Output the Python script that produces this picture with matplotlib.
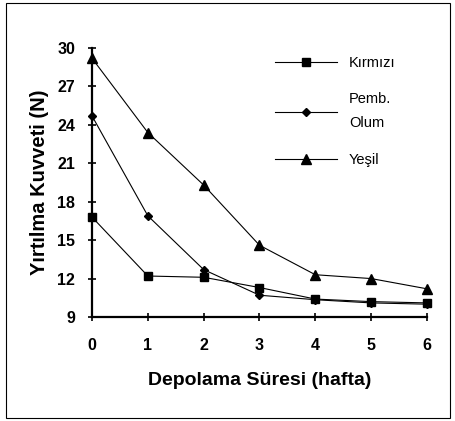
import matplotlib
matplotlib.use("Agg")
import matplotlib.pyplot as plt
from matplotlib.patches import Rectangle

plt.rcParams['font.family'] = ['Liberation Sans', 'DejaVu Sans']

weeks = [0, 1, 2, 3, 4, 5, 6]
kirmizi = [16.8, 12.2, 12.1, 11.3, 10.4, 10.2, 10.1]
pembe = [24.7, 16.9, 12.7, 10.7, 10.35, 10.1, 10.0]
yesil = [29.2, 23.4, 19.3, 14.6, 12.3, 12.0, 11.2]
yticks = [9, 12, 15, 18, 21, 24, 27, 30]
xticks = weeks

fig = plt.figure(figsize=(4.56, 4.21), dpi=100)
fig.patches.append(Rectangle((6/456, 3/421), 444/456, 415/421, transform=fig.transFigure,
                             fill=False, edgecolor='black', linewidth=0.8))
ax = fig.add_axes([92/456, 1-317/421, 335/456, 269/421])

ax.plot(weeks, kirmizi, color='black', lw=0.8, marker='s', ms=6, label='Kırmızı')
ax.plot(weeks, pembe, color='black', lw=0.8, marker='D', ms=4.5, label='Pemb.\nOlum')
ax.plot(weeks, yesil, color='black', lw=0.8, marker='^', ms=7, label='Yeşil')

ax.set_xlim(0, 6)
ax.set_ylim(9, 30)
ax.set_xticks(xticks)
ax.set_yticks(yticks)
for s in ['top', 'right']:
    ax.spines[s].set_visible(False)
for s in ['left', 'bottom']:
    ax.spines[s].set_linewidth(1.6)
    ax.spines[s].set_clip_on(False)
ax.tick_params(direction='inout', length=6, width=1.2, labelsize=11.5)
ax.tick_params(axis='x', pad=12)
ax.tick_params(axis='y', pad=9)
for lab in ax.get_xticklabels() + ax.get_yticklabels():
    lab.set_fontweight('bold')
ax.set_xlabel('Depolama Süresi (hafta)', fontsize=14, fontweight='bold', labelpad=14)
ax.set_ylabel('Yırtılma Kuvveti (N)', fontsize=14.5, fontweight='bold', labelpad=6)
for l in ax.get_lines():
    l.set_clip_on(False)

leg = ax.legend(loc='upper left', bbox_to_anchor=(0.506, 1.02), frameon=False,
                fontsize=10.5, handlelength=4.3, labelspacing=1.55, handletextpad=0.8)
for t in leg.get_texts():
    t.set_linespacing(1.9)
plt.savefig('out.png', dpi=100)
